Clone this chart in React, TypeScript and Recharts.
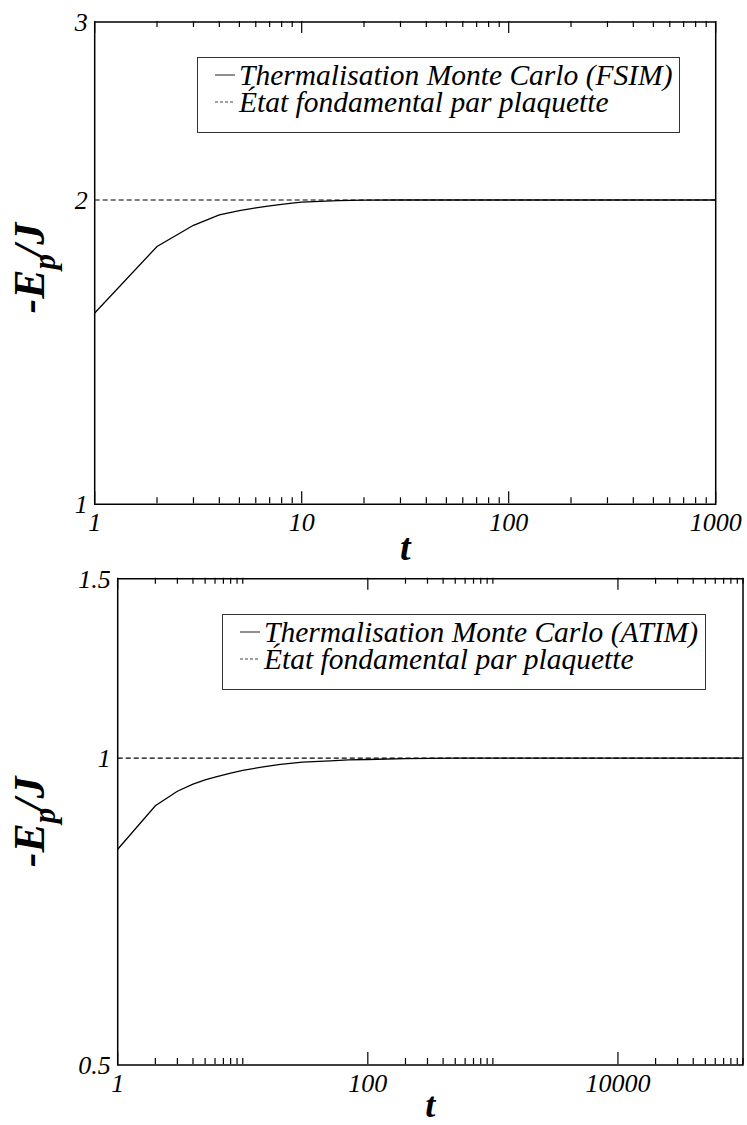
import React from 'react';
import { LineChart, Line, XAxis, YAxis, Legend, ReferenceArea, Label } from 'recharts';

// ---------- Top chart (FSIM) ----------
const tTop = [1, 2, 3, 4, 5, 6, 7, 8, 9, 10, 15, 20, 30, 50, 100, 200, 500, 1000];
const mcTop = [1.546, 1.799, 1.888, 1.933, 1.952, 1.964, 1.973, 1.98, 1.986, 1.99, 1.997, 1.999, 2.0, 2.0, 2.0, 2.0, 2.0, 2.0];
const gsTop = [2, 2, 2, 2, 2, 2, 2, 2, 2, 2, 2, 2, 2, 2, 2, 2, 2, 2];
const xTicksTop = [1, 2, 3, 4, 5, 6, 7, 8, 9, 10, 20, 30, 40, 50, 60, 70, 80, 90, 100, 200, 300, 400, 500, 600, 700, 800, 900, 1000];
const xMajorTop = [1, 10, 100, 1000];
const yTicksTop = [1, 2, 3];
const nameMcTop = 'Thermalisation Monte Carlo (FSIM)';

// ---------- Bottom chart (ATIM) ----------
const tBot = [1, 2, 3, 4, 5, 6, 8, 10, 15, 20, 30, 50, 70, 100, 200, 500, 1000, 10000, 100000];
const mcBot = [0.814, 0.898, 0.928, 0.943, 0.952, 0.958, 0.967, 0.973, 0.981, 0.986, 0.991, 0.994, 0.996, 0.997, 0.999, 1.0, 1.0, 1.0, 1.0];
const gsBot = [1, 1, 1, 1, 1, 1, 1, 1, 1, 1, 1, 1, 1, 1, 1, 1, 1, 1, 1];
const xTicksBot = [1, 2, 3, 4, 5, 6, 7, 8, 9, 10, 100, 200, 300, 400, 500, 600, 700, 800, 900, 1000, 10000, 20000, 30000, 40000, 50000, 60000, 70000, 80000, 90000, 100000];
const xMajorBot = [1, 100, 10000];
const yTicksBot = [0.5, 1, 1.5];
const nameMcBot = 'Thermalisation Monte Carlo (ATIM)';

const nameGs = 'État fondamental par plaquette';

const tableTop = tTop.map((t, i) => ({ t, mc: mcTop[i], gs: gsTop[i] }));
const tableBot = tBot.map((t, i) => ({ t, mc: mcBot[i], gs: gsBot[i] }));

const SERIF = '"Liberation Serif", "Times New Roman", serif';

function makeXTick(majors: number[], plotH: number) {
  return (props: any) => {
    const { x, payload } = props;
    const y = props.y - 1; // axis has height 1
    const v = payload.value;
    const isMajor = majors.includes(v);
    const len = isMajor ? 12 : 6;
    return (
      <g>
        <line x1={x} x2={x} y1={y} y2={y - len} stroke="#000" strokeWidth={1.2} />
        <line x1={x} x2={x} y1={y - plotH} y2={y - plotH + len} stroke="#000" strokeWidth={1.2} />
        {isMajor && (
          <text x={x} y={y + 28} textAnchor="middle" fontFamily={SERIF} fontStyle="italic" fontSize={26} fill="#000">
            {String(v)}
          </text>
        )}
      </g>
    );
  };
}

const YTick = (props: any) => {
  const { x, y, payload } = props;
  return (
    <text x={x - 7} y={y} dy="0.35em" textAnchor="end" fontFamily={SERIF} fontStyle="italic" fontSize={26} fill="#000">
      {String(payload.value)}
    </text>
  );
};

function makeXLabel(dy: number, size: number) {
  return (props: any) => {
    const vb = props.viewBox || {};
    const cx = vb.x + vb.width / 2;
    return (
      <text x={cx} y={vb.y + dy} textAnchor="middle" fontFamily={SERIF} fontStyle="italic" fontWeight="bold" fontSize={size} fill="#000">
        t
      </text>
    );
  };
}

function makeYLabel(dxFromAxis: number, dyCenter: number) {
  return (props: any) => {
    const vb = props.viewBox || {};
    const cx = vb.x + (vb.width || 0) - dxFromAxis;
    const cy = vb.y + vb.height / 2 + dyCenter;
    return (
      <text
        x={cx}
        y={cy}
        transform={`rotate(-90, ${cx}, ${cy})`}
        textAnchor="middle"
        fontFamily={SERIF}
        fontStyle="italic"
        fontWeight="bold"
        fontSize={44}
        fill="#000"
      >
        -E
        <tspan dy={11} fontSize={31}>p</tspan>
        <tspan dy={-11} dx={-3}>/J</tspan>
      </text>
    );
  };
}

const LegendBox = (props: any) => {
  const { payload } = props;
  return (
    <div
      style={{
        border: '1px solid #333',
        background: '#fff',
        padding: '4px 7px 0 17px',
        height: 76,
        boxSizing: 'border-box',
        whiteSpace: 'nowrap',
      }}
    >
      {(payload || []).map((entry: any, i: number) => {
        const dashed = entry.dataKey === 'gs';
        return (
          <div key={i} style={{ display: 'flex', alignItems: 'center', height: 26.7 }}>
            <svg width={23} height={10} style={{ marginRight: 1, flex: 'none' }}>
              <line x1={0} x2={20} y1={5} y2={5} stroke="#444" strokeWidth={1.2} strokeDasharray={dashed ? '3 2' : undefined} />
            </svg>
            <span
              style={{
                display: 'inline-block',
                height: 26.7,
                lineHeight: '26.7px',
                overflow: 'visible',
                fontFamily: SERIF,
                fontStyle: 'italic',
                fontSize: 29.5,
                color: '#000',
              }}
            >
              {entry.value}
            </span>
          </div>
        );
      })}
    </div>
  );
};

interface PanelProps {
  data: any[];
  height: number;
  margin: { top: number; right: number; bottom: number; left: number };
  xDomain: [number, number];
  xTicks: number[];
  xMajors: number[];
  yDomain: [number, number];
  yTicks: number[];
  mcName: string;
  legendPos: { top: number; left: number };
  yLabelDx: number;
  yLabelDy: number;
  xLabelDy: number;
  xLabelSize: number;
}

const Panel = (p: PanelProps) => {
  // axes take 1px each (a 0-sized axis is not drawn), so shrink margins by 1
  const margin = { top: p.margin.top, right: p.margin.right, bottom: p.margin.bottom - 1, left: p.margin.left - 1 };
  const plotH = p.height - p.margin.top - p.margin.bottom;
  return (
    <LineChart width={747} height={p.height} data={p.data} margin={margin}>
      <XAxis
        dataKey="t"
        type="number"
        scale="log"
        domain={p.xDomain}
        ticks={p.xTicks}
        interval={0}
        height={1}
        tickSize={0}
        tickMargin={0}
        tickLine={false}
        axisLine={false}
        allowDataOverflow
        tick={makeXTick(p.xMajors, plotH)}
      >
        <Label content={makeXLabel(p.xLabelDy, p.xLabelSize)} />
      </XAxis>
      <YAxis
        type="number"
        scale="log"
        domain={p.yDomain}
        ticks={p.yTicks}
        interval={0}
        width={1}
        tickSize={0}
        tickMargin={0}
        tickLine={false}
        axisLine={false}
        allowDataOverflow
        tick={<YTick />}
      >
        <Label content={makeYLabel(p.yLabelDx, p.yLabelDy)} />
      </YAxis>
      <ReferenceArea
        x1={p.xDomain[0]}
        x2={p.xDomain[1]}
        y1={p.yDomain[0]}
        y2={p.yDomain[1]}
        fill="none"
        stroke="#000"
        strokeWidth={1.5}
        ifOverflow="visible"
      />
      <Line
        dataKey="mc"
        name={p.mcName}
        type="linear"
        stroke="#000"
        strokeWidth={1.3}
        dot={false}
        isAnimationActive={false}
      />
      <Line
        dataKey="gs"
        name={nameGs}
        type="linear"
        stroke="#000"
        strokeWidth={1.2}
        strokeDasharray="5 3"
        dot={false}
        isAnimationActive={false}
      />
      <Legend
        layout="vertical"
        align="center"
        verticalAlign="middle"
        content={<LegendBox />}
        wrapperStyle={{ top: p.legendPos.top, left: p.legendPos.left, width: 'auto', bottom: 'auto', right: 'auto', margin: 0 }}
      />
    </LineChart>
  );
};

export default function App() {
  return (
    <div style={{ position: 'absolute', top: 0, left: 0, width: 747, height: 1125, background: '#fff' }}>
      <div style={{ position: 'absolute', top: 0, left: 0 }}>
        <Panel
          data={tableTop}
          height={572}
          margin={{ top: 22, right: 31.3, bottom: 67.7, left: 94.7 }}
          xDomain={[1, 1000]}
          xTicks={xTicksTop}
          xMajors={xMajorTop}
          yDomain={[1, 3]}
          yTicks={yTicksTop}
          mcName={nameMcTop}
          legendPos={{ top: 57, left: 197 }}
          yLabelDx={50.7}
          yLabelDy={5}
          xLabelDy={56}
          xLabelSize={38}
        />
      </div>
      <div style={{ position: 'absolute', top: 560, left: 0 }}>
        <Panel
          data={tableBot}
          height={565}
          margin={{ top: 18.7, right: 4, bottom: 60, left: 117.7 }}
          xDomain={[1, 100000]}
          xTicks={xTicksBot}
          xMajors={xMajorBot}
          yDomain={[0.5, 1.5]}
          yTicks={yTicksBot}
          mcName={nameMcBot}
          legendPos={{ top: 54, left: 222 }}
          yLabelDx={73.7}
          yLabelDy={0}
          xLabelDy={52}
          xLabelSize={36}
        />
      </div>
    </div>
  );
}
